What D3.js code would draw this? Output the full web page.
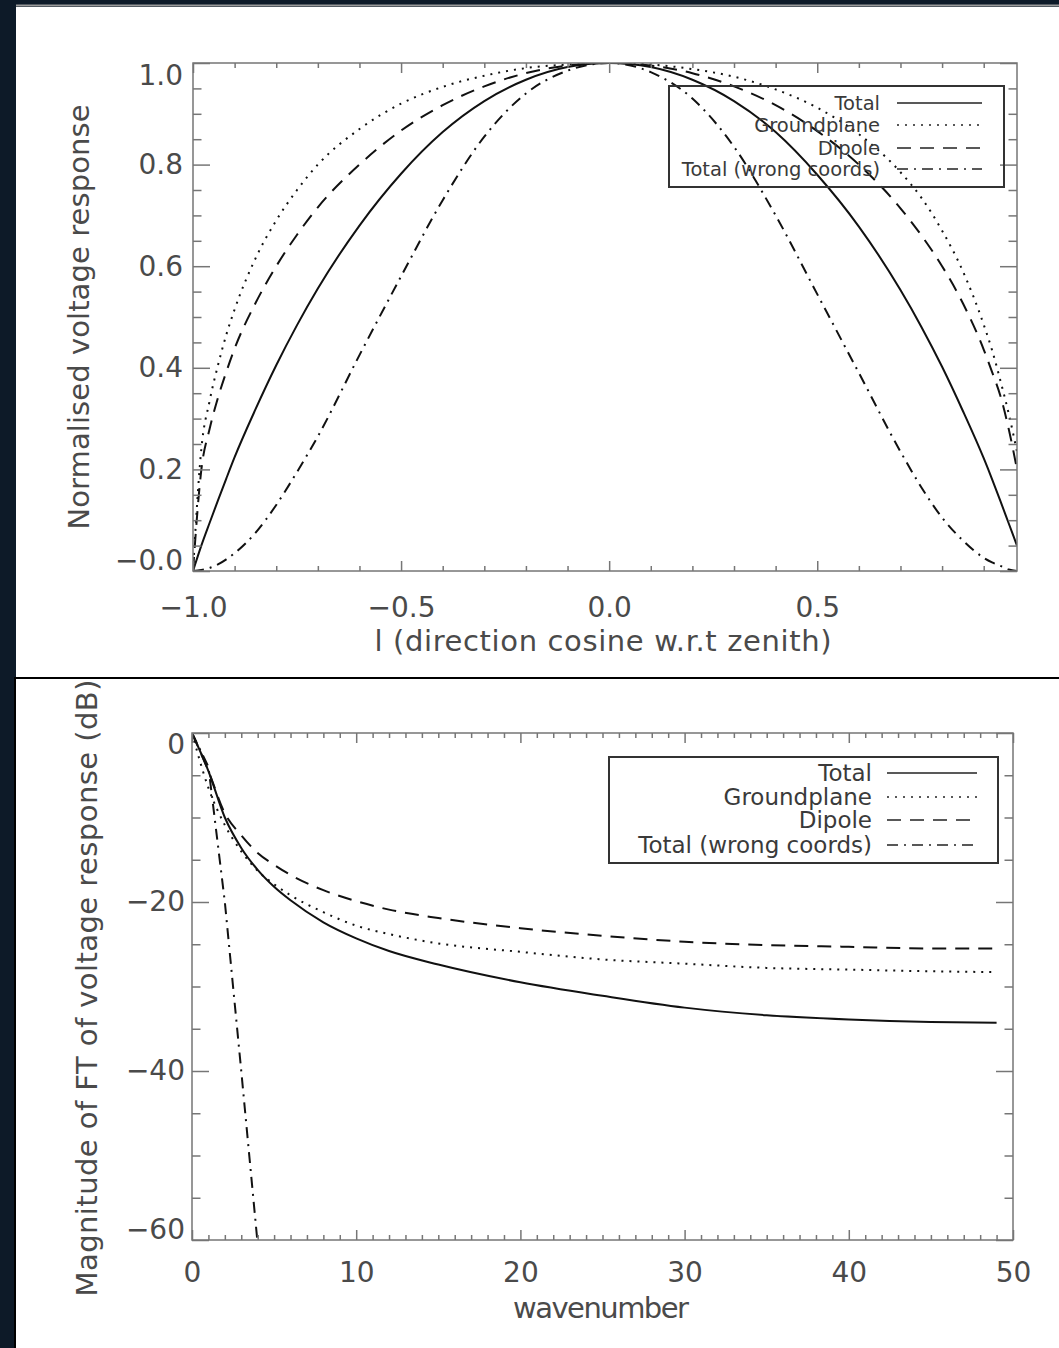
<!DOCTYPE html>
<html>
<head>
<meta charset="utf-8">
<script src="https://cdn.jsdelivr.net/npm/d3@7"></script>
<style>
  body { margin: 0; background: #0d1a28; }
  svg { display: block; }
  .axis path, .axis line { stroke: #767676; stroke-width: 1.5; }
  .axis text { font-family: "DejaVu Sans", sans-serif; font-size: 28px; fill: #4a4a4a; }
  .title { font-family: "DejaVu Sans", sans-serif; font-size: 29px; fill: #4a4a4a; }
  .legend text { font-family: "DejaVu Sans", sans-serif; fill: #3a3a3a; text-anchor: end; }
  .curve { fill: none; stroke: #111; stroke-width: 2; }
</style>
</head>
<body>
<svg id="chart" width="1059" height="1348"></svg>
<script>
// top panel: normalised voltage response vs direction cosine
const dirCos = [-1, -0.98, -0.96, -0.94, -0.92, -0.9, -0.85, -0.8, -0.75, -0.7, -0.6, -0.5, -0.4, -0.3, -0.2, -0.1,
                0, 0.1, 0.2, 0.3, 0.4, 0.5, 0.6, 0.7, 0.75, 0.8, 0.85, 0.9, 0.92, 0.94, 0.96, 0.98];
const totalResp  = [0, 0.05, 0.095, 0.139, 0.182, 0.224, 0.318, 0.405, 0.484, 0.556, 0.68, 0.782, 0.864, 0.925, 0.967, 0.992,
                    1, 0.992, 0.967, 0.925, 0.864, 0.78, 0.678, 0.553, 0.481, 0.402, 0.315, 0.222, 0.181, 0.138, 0.094, 0.05];
const groundResp = [0, 0.24, 0.335, 0.405, 0.465, 0.515, 0.615, 0.69, 0.75, 0.8, 0.87, 0.92, 0.953, 0.975, 0.99, 0.997,
                    1, 0.997, 0.988, 0.973, 0.948, 0.912, 0.86, 0.785, 0.735, 0.67, 0.59, 0.485, 0.435, 0.375, 0.31, 0.235];
const dipoleResp = [0, 0.199, 0.28, 0.341, 0.392, 0.438, 0.527, 0.6, 0.662, 0.716, 0.8, 0.867, 0.917, 0.954, 0.98, 0.995,
                    1, 0.995, 0.98, 0.954, 0.917, 0.866, 0.8, 0.714, 0.661, 0.6, 0.527, 0.436, 0.392, 0.345, 0.28, 0.2];
const wrongResp  = [0, 0.002, 0.006, 0.013, 0.023, 0.035, 0.075, 0.13, 0.195, 0.265, 0.425, 0.58, 0.73, 0.855, 0.94, 0.985,
                    1, 0.982, 0.93, 0.835, 0.7, 0.545, 0.39, 0.235, 0.165, 0.105, 0.06, 0.026, 0.017, 0.01, 0.003, 0];
const topXTicks = [-1, -0.5, 0, 0.5];
const topXLabels = ["\u22121.0", "\u22120.5", "0.0", "0.5"];
const topXMinor = [-0.9, -0.8, -0.7, -0.6, -0.4, -0.3, -0.2, -0.1, 0.1, 0.2, 0.3, 0.4, 0.6, 0.7, 0.8, 0.9];
const topYTicks = [0, 0.2, 0.4, 0.6, 0.8, 1.0];
const topYLabels = ["\u22120.0", "0.2", "0.4", "0.6", "0.8", "1.0"];
const topYMinor = [0.05, 0.1, 0.15, 0.25, 0.3, 0.35, 0.45, 0.5, 0.55, 0.65, 0.7, 0.75, 0.85, 0.9, 0.95];

// bottom panel: FT of the response in dB vs wavenumber
const waveNum  = [0, 1, 2, 3, 4, 5, 6, 8, 10, 12, 15, 20, 25, 30, 35, 40, 45, 49];
const totalDb  = [0, -4.5, -10, -13.6, -16.2, -18.2, -19.8, -22.4, -24.3, -25.8, -27.4, -29.5, -31.1, -32.5, -33.4, -33.9, -34.2, -34.3];
const groundDb = [0, -6.5, -10.9, -14, -16.3, -17.9, -19.2, -21.2, -22.8, -23.8, -24.9, -25.9, -26.8, -27.3, -27.8, -28.0, -28.2, -28.3];
const dipoleDb = [0, -4.5, -9.5, -12.1, -14.2, -15.6, -16.8, -18.6, -19.9, -20.9, -21.9, -23.1, -24.0, -24.7, -25.1, -25.3, -25.5, -25.5];
const wrongWave = [0, 1, 2, 3, 4];
const wrongDb   = [0, -4, -20, -40, -60.5];
const botXTicks = [0, 10, 20, 30, 40, 50];
const botXLabels = ["0", "10", "20", "30", "40", "50"];
const botYTicks = [-60, -40, -20, 0];
const botYLabels = ["\u221260", "\u221240", "\u221220", "0"];
const botYMinor = [-55, -50, -45, -35, -30, -25, -15, -10, -5];

const legendNames = ["Total", "Groundplane", "Dipole", "Total (wrong coords)"];
const dashes = [null, "2,6", "14,9", "11,6,2,6"];

const svg = d3.select("#chart");

// background pieces
svg.append("rect").attr("x", 0).attr("y", 0).attr("width", 1059).attr("height", 1348).attr("fill", "#0d1a28");
svg.append("rect").attr("x", 16).attr("y", 7).attr("width", 1043).attr("height", 670).attr("fill", "#fff");
svg.append("line").attr("x1", 16).attr("x2", 1059).attr("y1", 5.5).attr("y2", 5.5).attr("stroke", "#9a9a9a").attr("stroke-width", 2);
svg.append("rect").attr("x", 15).attr("y", 677).attr("width", 1044).attr("height", 671).attr("fill", "#fff");
svg.append("line").attr("x1", 15).attr("x2", 1059).attr("y1", 678).attr("y2", 678).attr("stroke", "#000").attr("stroke-width", 2);
svg.append("line").attr("x1", 15).attr("x2", 15).attr("y1", 677).attr("y2", 1348).attr("stroke", "#000").attr("stroke-width", 2);

function drawFrame(g, x, y, o) {
  const [x0, x1] = x.range(), [y0, y1] = y.range();
  // major + minor ticks on all four sides, pointing inwards
  const sides = [
    ["bottom", d3.axisBottom(x), "translate(0," + y0 + ")", o.xTicks, o.xMinor, o.xLen, o.xLabels, o.xPad],
    ["top", d3.axisTop(x), "translate(0," + y1 + ")", o.xTicks, o.xMinor, o.xLen, null, 0],
    ["left", d3.axisLeft(y), "translate(" + x0 + ",0)", o.yTicks, o.yMinor, o.yLen, o.yLabels, o.yPad],
    ["right", d3.axisRight(y), "translate(" + x1 + ",0)", o.yTicks, o.yMinor, o.yLen, null, 0]
  ];
  sides.forEach(([name, ax, tr, major, minor, len, labels, pad]) => {
    g.append("g").attr("class", "axis").attr("transform", tr)
      .call(ax.tickValues(minor).tickSize(-len / 2).tickSizeOuter(0).tickFormat(""))
      .select(".domain").remove();
    g.append("g").attr("class", "axis major-" + name).attr("transform", tr)
      .call(ax.tickValues(major).tickSize(-len).tickSizeOuter(0).tickPadding(pad)
        .tickFormat((d, i) => labels ? labels[i] : ""))
      .select(".domain").remove();
  });
  g.append("rect").attr("x", x0).attr("y", y1).attr("width", x1 - x0).attr("height", y0 - y1)
    .attr("fill", "none").attr("stroke", "#767676").attr("stroke-width", 1.5);
  // the end labels of the y axis sit a little inside the frame
  const t = g.select(".major-left").selectAll(".tick text").nodes();
  d3.select(t[0]).attr("y", o.yEnds[0]);
  d3.select(t[t.length - 1]).attr("y", o.yEnds[1]);
}

function drawCurves(g, x, y, xs, series, clipId) {
  g.append("clipPath").attr("id", clipId).append("rect")
    .attr("x", x.range()[0]).attr("y", y.range()[1])
    .attr("width", x.range()[1] - x.range()[0]).attr("height", y.range()[0] - y.range()[1]);
  series.forEach((s, i) => {
    const pts = s.vals.map((v, j) => [s.xs ? s.xs[j] : xs[j], v]);
    g.append("path").attr("class", "curve")
      .attr("clip-path", "url(#" + clipId + ")")
      .attr("stroke-dasharray", dashes[i])
      .attr("d", d3.line().x(d => x(d[0])).y(d => y(d[1])).curve(s.curve || d3.curveMonotoneX)(pts));
  });
}

function drawLegend(g, box, rows, textX, lineX, font, base) {
  g.append("rect").attr("x", box[0]).attr("y", box[1]).attr("width", box[2]).attr("height", box[3])
    .attr("fill", "none").attr("stroke", "#333").attr("stroke-width", 2);
  const lg = g.append("g").attr("class", "legend");
  legendNames.forEach((name, i) => {
    lg.append("text").attr("x", textX).attr("y", rows[i] + base).style("font-size", font + "px").text(name);
    lg.append("line").attr("x1", lineX[0]).attr("x2", lineX[1]).attr("y1", rows[i]).attr("y2", rows[i])
      .attr("stroke", "#222").attr("stroke-width", 1.6).attr("stroke-dasharray", dashes[i]);
  });
}

// ---------- top panel ----------
const xTop = d3.scaleLinear().domain([-1, 0.98]).range([193, 1017]);
const yTop = d3.scaleLinear().domain([0, 1]).range([571, 63]);
const gTop = svg.append("g");
drawCurves(gTop, xTop, yTop, dirCos, [
  {vals: totalResp}, {vals: groundResp}, {vals: dipoleResp}, {vals: wrongResp}
], "clipTop");
drawFrame(gTop, xTop, yTop, {
  xTicks: topXTicks, xMinor: topXMinor, xLabels: topXLabels, xLen: 10, xPad: 26,
  yTicks: topYTicks, yMinor: topYMinor, yLabels: topYLabels, yLen: 17, yPad: 10, yEnds: [-10, 13]
});
drawLegend(gTop, [669, 86, 335, 101], [103, 125, 148, 169], 880, [897, 982], 19.5, 7);
gTop.append("text").attr("class", "title")
  .attr("transform", "translate(89,317) rotate(-90)").attr("text-anchor", "middle")
  .attr("textLength", 425).text("Normalised voltage response");
gTop.append("text").attr("class", "title").attr("x", 603).attr("y", 651).attr("text-anchor", "middle")
  .attr("textLength", 457).text("l (direction cosine w.r.t zenith)");

// ---------- bottom panel ----------
const xBot = d3.scaleLinear().domain([0, 50]).range([192, 1013]);
const yBot = d3.scaleLinear().domain([-60, 0]).range([1240, 733]);
const gBot = svg.append("g");
drawCurves(gBot, xBot, yBot, waveNum, [
  {vals: totalDb}, {vals: groundDb}, {vals: dipoleDb}, {vals: wrongDb, xs: wrongWave, curve: d3.curveLinear}
], "clipBot");
drawFrame(gBot, xBot, yBot, {
  xTicks: botXTicks, xMinor: d3.range(1, 50).filter(v => v % 10 !== 0), xLabels: botXLabels, xLen: 10, xPad: 22,
  yTicks: botYTicks, yMinor: botYMinor, yLabels: botYLabels, yLen: 17, yPad: 7, yEnds: [-10, 12]
});
drawLegend(gBot, [609, 757, 389, 106], [773, 797, 820, 845], 872, [887, 977], 23, 8);
gBot.append("text").attr("class", "title")
  .attr("transform", "translate(97,988) rotate(-90)").attr("text-anchor", "middle")
  .attr("textLength", 617).text("Magnitude of FT of voltage response (dB)");
gBot.append("text").attr("class", "title").attr("x", 601).attr("y", 1318).attr("text-anchor", "middle")
  .attr("textLength", 176).text("wavenumber");
</script>
</body>
</html>
